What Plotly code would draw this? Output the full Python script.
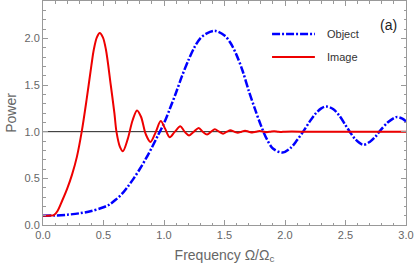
import plotly.graph_objects as go

# Object spectrum (blue dash-dot)
obj_x = [0.0, 0.1, 0.2, 0.3, 0.4, 0.5, 0.55, 0.6, 0.65, 0.7, 0.75, 0.8, 0.85, 0.9, 0.95,
         1.0, 1.05, 1.1, 1.15, 1.2, 1.25, 1.3, 1.35, 1.42, 1.5, 1.55, 1.6, 1.65, 1.7, 1.75,
         1.8, 1.85, 1.9, 1.98, 2.05, 2.1, 2.15, 2.2, 2.25, 2.3, 2.34, 2.4, 2.45, 2.5, 2.535,
         2.58, 2.645, 2.7, 2.75, 2.78, 2.85, 2.92, 2.97, 3.0]
obj_y = [0.10, 0.102, 0.11, 0.125, 0.15, 0.19, 0.22, 0.27, 0.33, 0.41, 0.50, 0.60, 0.71, 0.83, 0.96,
         1.09, 1.25, 1.42, 1.60, 1.76, 1.90, 2.00, 2.05, 2.08, 2.03, 1.95, 1.82, 1.65, 1.44, 1.25,
         1.07, 0.92, 0.82, 0.776, 0.83, 0.91, 1.00, 1.10, 1.19, 1.25, 1.27, 1.24, 1.17, 1.07, 1.00,
         0.92, 0.86, 0.89, 0.95, 1.00, 1.10, 1.156, 1.14, 1.11]

# Image spectrum (red solid)
img_x = [0.0, 0.04, 0.07, 0.09, 0.12, 0.16, 0.20, 0.24, 0.28, 0.32, 0.36, 0.40, 0.42, 0.445,
         0.469, 0.495, 0.52, 0.56, 0.59, 0.607, 0.635, 0.66, 0.70, 0.74, 0.777, 0.81, 0.85,
         0.888, 0.93, 0.973, 1.01, 1.047, 1.09, 1.135, 1.17, 1.207, 1.247, 1.287, 1.32, 1.356,
         1.39, 1.42, 1.455, 1.488, 1.52, 1.549, 1.58, 1.61, 1.64, 1.67, 1.70, 1.73, 1.76, 1.79,
         1.82, 1.85, 1.88, 1.91, 1.94, 1.97, 2.0, 2.2, 2.4, 2.6, 2.8, 3.0]
img_y = [0.10, 0.10, 0.101, 0.105, 0.15, 0.265, 0.39, 0.54, 0.73, 1.00, 1.34, 1.71, 1.88, 2.01,
         2.057, 2.01, 1.88, 1.50, 1.20, 1.00, 0.84, 0.79, 0.92, 1.12, 1.227, 1.16, 0.97,
         0.89, 0.99, 1.113, 1.03, 0.94, 1.00, 1.057, 1.00, 0.96, 1.00, 1.04, 1.00, 0.97,
         1.00, 1.025, 1.00, 0.979, 1.00, 1.014, 1.00, 0.988, 1.00, 1.01, 1.00, 0.992, 1.00, 1.007,
         1.00, 0.995, 1.00, 1.004, 1.00, 0.997, 1.00, 1.0, 1.0, 1.0, 1.0, 1.0]

ref_level = 1.0

x_ticks = [0.0, 0.5, 1.0, 1.5, 2.0, 2.5, 3.0]
y_ticks = [0.0, 0.5, 1.0, 1.5, 2.0]

series_names = ["Object", "Image"]
series_colors = ["#0000ff", "#ee0000"]
series_dash = ["8px,2px,2px,2px", "solid"]
series_width = [2.5, 2]

fig = go.Figure()

fig.add_trace(go.Scatter(x=[0, 3], y=[ref_level, ref_level], mode="lines",
                         line=dict(color="#222222", width=1), showlegend=False,
                         hoverinfo="skip"))
for name, xs, ys, col, dsh, w in zip(series_names, [obj_x, img_x], [obj_y, img_y],
                                     series_colors, series_dash, series_width):
    fig.add_trace(go.Scatter(x=xs, y=ys, mode="lines", name=name, showlegend=False,
                             line=dict(color=col, width=w, dash=dsh,
                                       shape="spline", smoothing=0.9)))

# legend drawn in paper space
leg_y = [0.853, 0.75]
for name, col, dsh, w, yy in zip(series_names, series_colors, series_dash, series_width, leg_y):
    fig.add_shape(type="line", xref="paper", yref="paper", x0=0.631, x1=0.749, y0=yy, y1=yy,
                  line=dict(color=col, width=w, dash=dsh))
    fig.add_annotation(text=name, xref="paper", yref="paper", x=0.777, y=yy,
                       showarrow=False, xanchor="left", yanchor="middle",
                       font=dict(size=11, color="#333333"))

axis_common = dict(showgrid=False, zeroline=False, showline=True, linecolor="#999999",
                   linewidth=1, mirror="ticks", ticks="inside", ticklen=5, tickcolor="#999999",
                   tickfont=dict(size=11, color="#666666"),
                   minor=dict(ticks="inside", ticklen=2.5, tickcolor="#999999", dtick=0.1))

fig.update_xaxes(range=[0, 3], tickvals=x_ticks, ticktext=[f"{v:.1f}" for v in x_ticks],
                 title=dict(text="Frequency Ω/Ω<sub>c</sub>", font=dict(size=14, color="#666666"),
                            standoff=9),
                 **axis_common)
fig.update_yaxes(range=[0, 2.4], tickvals=y_ticks, ticktext=[f"{v:.1f}" for v in y_ticks],
                 title=dict(text="Power", font=dict(size=14, color="#666666"), standoff=4),
                 **axis_common)

fig.add_annotation(text="(a)", xref="paper", yref="paper", x=0.953, y=0.893,
                   showarrow=False, font=dict(size=14, color="#222222"),
                   xanchor="center", yanchor="middle")

fig.update_layout(
    width=415, height=267,
    margin=dict(l=43, r=9, t=1, b=42),
    paper_bgcolor="white", plot_bgcolor="white",
    font=dict(family="Liberation Sans, Arial, sans-serif"),
    showlegend=False,
)

fig.write_html("out.html", post_script="document.body.style.margin='0';",
               config={"displayModeBar": False})
